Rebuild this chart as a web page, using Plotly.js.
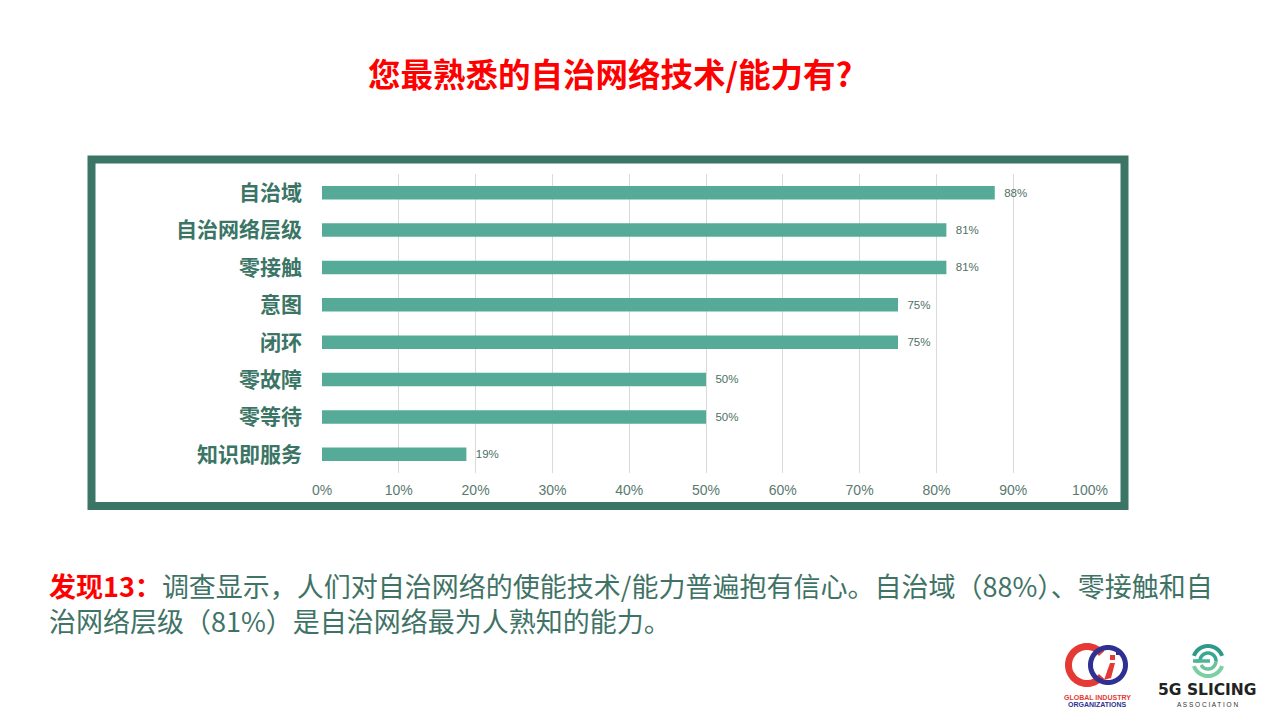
<!DOCTYPE html>
<html>
<head>
<meta charset="utf-8">
<script src="https://cdn.plot.ly/plotly-3.0.1.min.js"></script>
<style>
  html, body { margin: 0; padding: 0; background: #ffffff; }
  #chart { width: 1280px; height: 720px; }
</style>
</head>
<body>
<div id="chart"></div>
<script>
// ---- data ----
const categories = ['自治域', '自治网络层级', '零接触', '意图', '闭环', '零故障', '零等待', '知识即服务'];
const values = [87.6, 81.3, 81.3, 75, 75, 50, 50, 18.8];
const xTickVals = [0, 10, 20, 30, 40, 50, 60, 70, 80, 90, 100];
const xTickText = ['0%', '10%', '20%', '30%', '40%', '50%', '60%', '70%', '80%', '90%', '100%'];
const titleText = '您最熟悉的自治网络技术/能力有?';
const findingText = '<b><span style="color:#ff0000">发现13：</span></b>调查显示，人们对自治网络的使能技术/能力普遍抱有信心。自治域（88%）、零接触和自<br>治网络层级（81%）是自治网络最为人熟知的能力。';

// ---- layout helpers (pixel -> paper) ----
const L = 322, R = 1090, T = 174, B = 473;
const X = px => (px - L) / (R - L);
const Y = py => (B - py) / (B - T);

function arcPath(cx, cy, r, a0, a1, n) {
  let d = '';
  for (let i = 0; i <= n; i++) {
    const a = (a0 + (a1 - a0) * i / n) * Math.PI / 180;
    const px = cx + r * Math.cos(a), py = cy + r * Math.sin(a);
    d += (i === 0 ? 'M' : 'L') + X(px).toFixed(5) + ',' + Y(py).toFixed(5) + ' ';
  }
  return d;
}

const green = '#3b7566';
const barColor = '#56ab98';

const trace = {
  type: 'bar',
  orientation: 'h',
  y: categories,
  x: values,
  width: 0.36,
  marker: { color: barColor },
  text: values.map(v => '  ' + Math.round(v) + '%'),
  textposition: 'outside',
  textfont: { family: 'Liberation Sans, Arial, sans-serif', size: 12, color: '#4e6f66' },
  cliponaxis: false,
  hoverinfo: 'skip'
};

const shapes = [
  { type: 'rect', xref: 'paper', yref: 'paper',
    x0: X(91.5), x1: X(1124.5), y0: Y(506), y1: Y(159.5),
    line: { color: green, width: 8 }, fillcolor: 'rgba(0,0,0,0)', layer: 'below' },
  // GIO logo: red C
  { type: 'path', xref: 'paper', yref: 'paper', path: arcPath(1087, 665, 18.5, 38, 322, 60),
    line: { color: '#e53935', width: 7 } },
  // GIO logo: blue ring
  { type: 'path', xref: 'paper', yref: 'paper', path: arcPath(1108, 665, 17.5, 0, 360, 80),
    line: { color: '#2e3192', width: 5 } },
  { type: 'rect', xref: 'paper', yref: 'paper', x0: X(1110), x1: X(1115), y0: Y(660), y1: Y(655),
    fillcolor: '#e53935', line: { width: 0 } },
  { type: 'rect', xref: 'paper', yref: 'paper', x0: X(1116), x1: X(1119), y0: Y(655), y1: Y(652),
    fillcolor: '#2e3192', line: { width: 0 } },
  { type: 'path', xref: 'paper', yref: 'paper',
    path: 'M' + X(1110) + ',' + Y(663) + ' L' + X(1115) + ',' + Y(663) + ' L' + X(1111) + ',' + Y(678) + ' L' + X(1104) + ',' + Y(680) + ' Z',
    fillcolor: '#e53935', line: { width: 0 } },
  // 5G logo icon
  { type: 'path', xref: 'paper', yref: 'paper', path: arcPath(1208, 661, 15, 200, 340, 40),
    line: { color: '#2f9a8c', width: 4 } },
  { type: 'path', xref: 'paper', yref: 'paper', path: arcPath(1208, 661, 15, 20, 160, 40),
    line: { color: '#7ccfa3', width: 4 } },
  { type: 'path', xref: 'paper', yref: 'paper', path: arcPath(1208, 661, 8, 180, 360, 30),
    line: { color: '#3aa792', width: 3.5 } },
  { type: 'path', xref: 'paper', yref: 'paper', path: arcPath(1208, 661, 8, 0, 150, 30),
    line: { color: '#6cc39b', width: 3.5 } },
  { type: 'path', xref: 'paper', yref: 'paper',
    path: 'M' + X(1196) + ',' + Y(661) + ' L' + X(1210) + ',' + Y(661),
    line: { color: '#4fb497', width: 3.5 } },
  { type: 'path', xref: 'paper', yref: 'paper',
    path: 'M' + X(1193) + ',' + Y(661) + ' L' + X(1199) + ',' + Y(661),
    line: { color: '#4fb497', width: 3.5 } }
];

const annotations = [
  { xref: 'paper', yref: 'paper', x: X(610), y: Y(72), xanchor: 'center', yanchor: 'middle',
    text: '<b>' + titleText + '</b>', showarrow: false,
    font: { family: 'Noto Sans CJK SC, sans-serif', size: 32.5, color: '#ff0000' } },
  { xref: 'paper', yref: 'paper', x: X(47), y: Y(603), xanchor: 'left', yanchor: 'middle',
    text: findingText, showarrow: false, align: 'left',
    font: { family: 'Noto Sans CJK SC, sans-serif', size: 27, color: '#3f7366' } },
  { xref: 'paper', yref: 'paper', x: X(1097), y: Y(697), xanchor: 'center', yanchor: 'middle',
    text: '<b>GLOBAL INDUSTRY</b>', showarrow: false,
    font: { family: 'Liberation Sans, Arial, sans-serif', size: 7, color: '#e53935' } },
  { xref: 'paper', yref: 'paper', x: X(1097), y: Y(704), xanchor: 'center', yanchor: 'middle',
    text: '<b>ORGANIZATIONS</b>', showarrow: false,
    font: { family: 'Liberation Sans, Arial, sans-serif', size: 7, color: '#2e3192' } },
  { xref: 'paper', yref: 'paper', x: X(1207), y: Y(690), xanchor: 'center', yanchor: 'middle',
    text: '<b>5G SLICING</b>', showarrow: false,
    font: { family: 'DejaVu Sans, sans-serif', size: 15.5, color: '#222222' } },
  { xref: 'paper', yref: 'paper', x: X(1207), y: Y(704), xanchor: 'center', yanchor: 'middle',
    text: 'A S S O C I A T I O N', showarrow: false,
    font: { family: 'Liberation Sans, Arial, sans-serif', size: 6.5, color: '#333333' } }
];

const layout = {
  width: 1280,
  height: 720,
  margin: { l: L, r: 1280 - R, t: T, b: 720 - B, pad: 0 },
  paper_bgcolor: '#ffffff',
  plot_bgcolor: '#ffffff',
  showlegend: false,
  xaxis: {
    range: [0, 100],
    tickvals: xTickVals,
    ticktext: xTickText,
    showgrid: true,
    gridcolor: '#d9d9d9',
    gridwidth: 1,
    zeroline: false,
    showline: false,
    ticks: '',
    ticklabelstandoff: 7,
    tickfont: { family: 'Liberation Sans, Arial, sans-serif', size: 14, color: '#5a7a70' },
    fixedrange: true
  },
  yaxis: {
    type: 'category',
    autorange: 'reversed',
    showgrid: false,
    zeroline: false,
    showline: false,
    ticks: '',
    ticklabelstandoff: 19,
    tickfont: { family: 'Noto Sans CJK SC, sans-serif', size: 21, color: green, weight: 'bold' },
    fixedrange: true
  },
  shapes: shapes,
  annotations: annotations
};

Plotly.newPlot('chart', [trace], layout, { displayModeBar: false, staticPlot: true });
</script>
</body>
</html>
